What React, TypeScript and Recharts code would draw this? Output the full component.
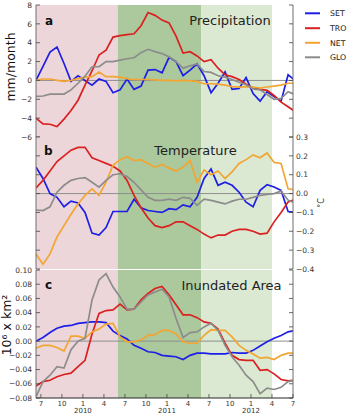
import React from 'react';
import { LineChart, Line, XAxis, YAxis, ReferenceArea, ReferenceLine } from 'recharts';

// Monthly samples, index 0 = June 2009 ... 37 = July 2012
const monthIndex = [0, 1, 2, 3, 4, 5, 6, 7, 8, 9, 10, 11, 12, 13, 14, 15, 16, 17, 18, 19, 20, 21, 22, 23, 24, 25, 26, 27, 28, 29, 30, 31, 32, 33, 34, 35, 36, 37];

// Tick positions (first of month) and their labels
const xTicks = [0.7, 3.7, 6.7, 9.7, 12.7, 15.7, 18.7, 21.7, 24.7, 27.7, 30.7, 33.7, 36.7];
const monthLabels = ['7', '10', '1', '4', '7', '10', '1', '4', '7', '10', '1', '4', '7'];
const yearLabels = ['', '', '2010', '', '', '', '2011', '', '', '', '2012', '', ''];
const xDomain: [number, number] = [0, 36.7];

// Shaded periods (in month index units)
const pinkSpan = [0, 11.7];
const darkGreenSpan = [11.7, 23.6];
const lightGreenSpan = [23.6, 33.7];

const seriesNames = ['SET', 'TRO', 'NET', 'GLO'];
const seriesColors = ['#1e1ee6', '#db2020', '#f3a532', '#8c8c8c'];

// (a) Precipitation anomaly, mm/month
const precipSET = [0, 1.5, 3.0, 3.55, 1.8, -0.1, 0.5, 0.0, -0.5, 0.15, -0.1, -1.3, -1.0, 0.15, -0.95, -0.6, 1.1, 1.15, 0.8, 2.45, 2.0, 0.5, 1.1, 1.75, 0.5, -1.3, -0.3, 0.9, -0.95, -0.85, 0.3, -1.4, -2.2, -1.2, -1.7, -2.2, 0.6, 0.0];
const precipTRO = [-4.0, -4.6, -4.65, -4.9, -4.1, -3.2, -2.1, -0.5, 1.0, 2.7, 3.2, 4.6, 4.75, 4.85, 4.95, 5.8, 7.2, 6.9, 6.4, 6.1, 4.7, 2.9, 3.05, 2.6, 2.0, 2.2, 1.3, 0.6, 0.4, 0.1, -0.4, -0.8, -0.95, -1.05, -1.6, -2.3, -2.8, -3.3];
const precipNET = [0, 0.15, 0.15, 0, -0.1, 0, 0.2, 0.35, 0.4, 0.9, 0.4, 0.4, 0.35, 0.2, 0.1, 0.1, 0.1, 0.05, 0, 0, -0.05, 0, -0.05, -0.1, -0.35, -0.35, -0.4, -0.5, -0.65, -0.7, -0.65, -0.7, -0.8, -0.7, -0.6, -0.5, -0.3, -0.3];
const precipGLO = [-1.7, -1.65, -1.45, -1.45, -1.45, -1.0, -0.3, 0.45, 1.45, 1.45, 2.0, 2.0, 2.15, 2.3, 2.4, 2.95, 3.3, 3.05, 2.85, 2.5, 2.0, 1.3, 1.55, 1.75, 0.95, 0.85, 0.5, 0.35, 0.1, -0.2, -0.45, -0.9, -1.0, -1.5, -2.0, -1.9, -1.2, -1.5];

// (b) Temperature anomaly, °C
const tempSET = [0.14, 0.08, 0.0, -0.02, -0.07, -0.04, -0.05, -0.1, -0.21, -0.22, -0.18, -0.095, -0.095, -0.095, -0.03, -0.075, -0.09, -0.095, -0.1, -0.08, -0.085, -0.06, -0.07, -0.02, 0.08, 0.13, 0.044, 0.06, 0.044, 0.007, -0.046, -0.07, 0.017, 0.047, 0.035, 0.017, -0.095, -0.1];
const tempTRO = [0.03, 0.07, 0.12, 0.17, 0.2, 0.23, 0.245, 0.245, 0.19, 0.175, 0.16, 0.145, 0.12, 0.07, -0.01, -0.075, -0.13, -0.17, -0.18, -0.17, -0.15, -0.15, -0.17, -0.19, -0.215, -0.235, -0.22, -0.22, -0.2, -0.19, -0.19, -0.2, -0.215, -0.21, -0.15, -0.1, -0.045, -0.03];
const tempNET = [-0.32, -0.375, -0.32, -0.23, -0.17, -0.11, -0.055, -0.01, 0.025, -0.01, 0.06, 0.15, 0.18, 0.195, 0.175, 0.18, 0.16, 0.14, 0.155, 0.135, 0.12, 0.14, 0.175, 0.06, 0.125, 0.1, 0.12, 0.08, 0.115, 0.16, 0.18, 0.205, 0.19, 0.215, 0.165, 0.16, 0.025, 0.02];
const tempGLO = [-0.087, -0.09, -0.07, 0.007, 0.044, 0.07, 0.08, 0.085, 0.06, 0.034, 0.07, 0.1, 0.105, 0.09, 0.06, 0.02, -0.02, -0.036, -0.036, -0.03, -0.036, -0.02, -0.025, -0.063, -0.03, -0.036, -0.045, -0.055, -0.04, -0.03, -0.03, -0.02, -0.01, -0.005, 0.0, 0.013, -0.035, -0.05];

// (c) Inundated area anomaly, 10^6 km²
const inunSET = [0.0, 0.005, 0.012, 0.018, 0.021, 0.022, 0.025, 0.026, 0.027, 0.027, 0.026, 0.014, 0.008, 0.003, -0.006, -0.01, -0.015, -0.016, -0.02, -0.021, -0.022, -0.026, -0.02, -0.017, -0.017, -0.018, -0.018, -0.018, -0.016, -0.017, -0.017, -0.013, -0.007, -0.001, 0.004, 0.008, 0.013, 0.015];
const inunTRO = [-0.063, -0.057, -0.055, -0.05, -0.047, -0.045, -0.036, -0.027, 0.01, 0.039, 0.043, 0.044, 0.052, 0.044, 0.045, 0.058, 0.067, 0.074, 0.077, 0.065, 0.051, 0.037, 0.037, 0.033, 0.027, 0.025, 0.017, -0.003, -0.02, -0.026, -0.027, -0.027, -0.041, -0.04, -0.046, -0.054, -0.056, -0.055];
const inunNET = [-0.01, -0.006, -0.006, -0.009, -0.014, 0.007, 0.007, 0.004, 0.013, 0.017, 0.024, 0.025, 0.006, -0.001, -0.001, 0.002, 0.008, 0.009, 0.015, 0.015, 0.01, -0.001, -0.003, -0.003, 0.008, 0.016, 0.015, 0.015, 0.006, -0.006, -0.013, -0.018, -0.024, -0.023, -0.026, -0.02, -0.017, -0.017];
const inunGLO = [-0.078, -0.057, -0.048, -0.036, -0.038, -0.012, 0.0, 0.004, 0.058, 0.086, 0.095, 0.076, 0.062, 0.045, 0.045, 0.055, 0.065, 0.069, 0.073, 0.062, 0.032, 0.005, 0.012, 0.013, 0.02, 0.025, 0.015, -0.006, -0.022, -0.034, -0.048, -0.057, -0.074, -0.066, -0.068, -0.065, -0.057, -0.055];

// Axis ticks
const precipTicks = [-6, -4, -2, 0, 2, 4, 6, 8];
const tempTicks = [-0.4, -0.3, -0.2, -0.1, 0.0, 0.1, 0.2, 0.3];
const inunTicks = [-0.08, -0.06, -0.04, -0.02, 0.0, 0.02, 0.04, 0.06, 0.08, 0.1];

const buildRows = (cols: number[][]) =>
  monthIndex.map((t, i) => {
    const row: Record<string, number> = { t };
    seriesNames.forEach((n, j) => {
      row[n] = cols[j][i];
    });
    return row;
  });

const precipRows = buildRows([precipSET, precipTRO, precipNET, precipGLO]);
const tempRows = buildRows([tempSET, tempTRO, tempNET, tempGLO]);
const inunRows = buildRows([inunSET, inunTRO, inunNET, inunGLO]);

const FONT = '"DejaVu Sans", Verdana, sans-serif';
const PINK = '#ecd6da';
const DARK_GREEN = '#abc99c';
const LIGHT_GREEN = '#dbe9d3';
const SPINE_V = '#6e6e6e';
const SPINE_H = '#262626';
const TICK = '#444';
const LABEL = '#333';
const TICK_LEN = 4;
const TICK_FS = 7.5;

const fmt = (v: number, digits: number) => {
  const s = Math.abs(v).toFixed(digits);
  return v < -1e-9 ? '\u2212' + s : s;
};

type PanelProps = {
  rows: Record<string, number>[];
  domain: [number, number];
  ticks: number[];
  digits: number;
  leftLabels: boolean;
  rightLabels: boolean;
  monthAxis: boolean;
  height: number;
  marginTop: number;
};

function Panel(p: PanelProps) {
  const bottomHeight = p.monthAxis ? 17 : 0;
  const bottomTick = (tp: any) => {
    const idx = xTicks.indexOf(tp.payload.value);
    return (
      <g>
        <line x1={tp.x} x2={tp.x} y1={tp.y} y2={tp.y - TICK_LEN} stroke={TICK} strokeWidth={0.8} />
        {p.monthAxis && (
          <>
            <text x={tp.x} y={tp.y + 7.6} textAnchor="middle" fontSize={7} fill={LABEL} fontFamily={FONT}>
              {monthLabels[idx]}
            </text>
            {yearLabels[idx] && (
              <text x={tp.x} y={tp.y + 15.3} textAnchor="middle" fontSize={7} fill={LABEL} fontFamily={FONT}>
                {yearLabels[idx]}
              </text>
            )}
          </>
        )}
      </g>
    );
  };
  const topTick = (tp: any) => (
    <line x1={tp.x} x2={tp.x} y1={tp.y} y2={tp.y + TICK_LEN} stroke={TICK} strokeWidth={0.8} />
  );
  const leftTick = (tp: any) => (
    <g>
      <line x1={tp.x} x2={tp.x + TICK_LEN} y1={tp.y} y2={tp.y} stroke={TICK} strokeWidth={0.8} />
      {p.leftLabels && (
        <text x={tp.x - 4} y={tp.y + 2.7} textAnchor="end" fontSize={TICK_FS} fill={LABEL} fontFamily={FONT}>
          {fmt(tp.payload.value, p.digits)}
        </text>
      )}
    </g>
  );
  const rightTick = (tp: any) => (
    <g>
      <line x1={tp.x} x2={tp.x - TICK_LEN} y1={tp.y} y2={tp.y} stroke={TICK} strokeWidth={0.8} />
      {p.rightLabels && (
        <text x={tp.x + 3} y={tp.y + 2.7} textAnchor="start" fontSize={TICK_FS} fill={LABEL} fontFamily={FONT}>
          {fmt(tp.payload.value, p.digits)}
        </text>
      )}
    </g>
  );

  return (
    <LineChart width={352} height={p.height} data={p.rows} margin={{ top: p.marginTop, right: 0, bottom: 0, left: 0 }}>
      <XAxis
        xAxisId="b"
        dataKey="t"
        type="number"
        domain={xDomain}
        ticks={xTicks}
        interval={0}
        allowDataOverflow
        orientation="bottom"
        height={bottomHeight}
        axisLine={{ stroke: SPINE_H, strokeWidth: 1.2 }}
        tickLine={false}
        tickSize={0}
        tickMargin={0}
        tick={bottomTick}
      />
      <XAxis
        xAxisId="t"
        dataKey="t"
        type="number"
        domain={xDomain}
        ticks={xTicks}
        interval={0}
        allowDataOverflow
        orientation="top"
        height={0}
        axisLine={{ stroke: SPINE_H, strokeWidth: 1.2 }}
        tickLine={false}
        tickSize={0}
        tickMargin={0}
        tick={topTick}
      />
      <YAxis
        yAxisId="l"
        type="number"
        orientation="left"
        width={36}
        domain={p.domain}
        ticks={p.ticks}
        interval={0}
        allowDataOverflow
        axisLine={{ stroke: SPINE_V }}
        tickLine={false}
        tickSize={0}
        tickMargin={0}
        tick={leftTick}
      />
      <YAxis
        yAxisId="r"
        type="number"
        orientation="right"
        width={59}
        domain={p.domain}
        ticks={p.ticks}
        interval={0}
        allowDataOverflow
        axisLine={{ stroke: SPINE_V }}
        tickLine={false}
        tickSize={0}
        tickMargin={0}
        tick={rightTick}
      />
      <ReferenceArea xAxisId="b" yAxisId="l" x1={pinkSpan[0]} x2={pinkSpan[1]} fill={PINK} fillOpacity={1} stroke="none" />
      <ReferenceArea xAxisId="b" yAxisId="l" x1={darkGreenSpan[0]} x2={darkGreenSpan[1]} fill={DARK_GREEN} fillOpacity={1} stroke="none" />
      <ReferenceArea xAxisId="b" yAxisId="l" x1={lightGreenSpan[0]} x2={lightGreenSpan[1]} fill={LIGHT_GREEN} fillOpacity={1} stroke="none" />
      <ReferenceLine xAxisId="b" yAxisId="l" y={0} stroke="#8e8e8e" strokeWidth={1} />
      {seriesNames.map((n, i) => (
        <Line
          key={n}
          xAxisId="b"
          yAxisId="l"
          dataKey={n}
          type="linear"
          stroke={seriesColors[i]}
          strokeWidth={1.7}
          dot={false}
          activeDot={false}
          isAnimationActive={false}
        />
      ))}
    </LineChart>
  );
}

function Overlay() {
  const legendY = [13.3, 28.2, 42.8, 57.3];
  return (
    <svg width={352} height={415} style={{ position: 'absolute', left: 0, top: 0, pointerEvents: 'none' }} fontFamily={FONT}>
      <text x={45} y={25} fontSize={12} fontWeight="bold" fill="#111">a</text>
      <text x={44} y={155} fontSize={12} fontWeight="bold" fill="#111">b</text>
      <text x={45} y={289} fontSize={12} fontWeight="bold" fill="#111">c</text>
      <text x={230} y={24.5} fontSize={13} textAnchor="middle" fill="#222">Precipitation</text>
      <text x={195.5} y={154.5} fontSize={13} textAnchor="middle" fill="#222">Temperature</text>
      <text x={231.5} y={289.5} fontSize={13} textAnchor="middle" fill="#222">Inundated Area</text>
      <text x={15} y={67} fontSize={12.5} textAnchor="middle" fill="#111" transform="rotate(-90 15 67)">mm/month</text>
      <text x={11} y={325} fontSize={12.5} textAnchor="middle" fill="#111" transform="rotate(-90 11 325)">10⁶ x km²</text>
      <text x={324} y={203} fontSize={8} textAnchor="middle" fill="#333" transform="rotate(-90 324 203)">°C</text>
      {seriesNames.map((n, i) => (
        <g key={n}>
          <line x1={305} x2={320} y1={legendY[i]} y2={legendY[i]} stroke={seriesColors[i]} strokeWidth={2} />
          <text x={330} y={legendY[i] + 3} fontSize={7.8} fill="#222">{n}</text>
        </g>
      ))}
    </svg>
  );
}

export default function App() {
  return (
    <div style={{ position: 'absolute', left: 0, top: 0, width: 352, height: 415, background: '#fff', overflow: 'hidden' }}>
      <style>{`.recharts-surface { overflow: visible; }`}</style>
      <div style={{ position: 'absolute', left: 0, top: 0 }}>
        <Panel rows={precipRows} domain={[-6, 8]} ticks={precipTicks} digits={0} leftLabels rightLabels={false} monthAxis={false} height={137} marginTop={5} />
      </div>
      <div style={{ position: 'absolute', left: 0, top: 137 }}>
        <Panel rows={tempRows} domain={[-0.4, 0.3]} ticks={tempTicks} digits={1} leftLabels={false} rightLabels monthAxis={false} height={132} marginTop={0} />
      </div>
      <div style={{ position: 'absolute', left: 0, top: 268 }}>
        <Panel rows={inunRows} domain={[-0.08, 0.1]} ticks={inunTicks} digits={2} leftLabels rightLabels={false} monthAxis height={147} marginTop={2} />
      </div>
      <Overlay />
    </div>
  );
}
